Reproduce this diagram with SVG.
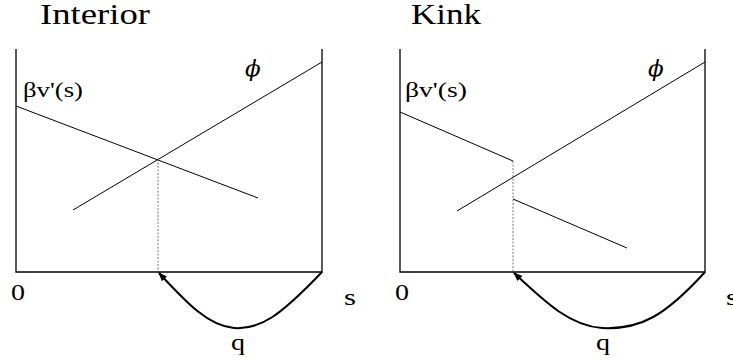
<svg xmlns="http://www.w3.org/2000/svg" width="733" height="360" viewBox="0 0 733 360">
<defs>
<style>
.ax{stroke:#000;stroke-width:1.3;fill:none}
.ln{stroke:#000;stroke-width:1;fill:none}
.dot{stroke:#555;stroke-width:0.8;stroke-dasharray:2,1.5;fill:none}
.cv{stroke:#000;stroke-width:2;fill:none}
.t{font-family:"Liberation Serif","Times New Roman",serif;fill:#000}
.phi{font-family:"DejaVu Serif","Liberation Serif",serif;font-style:italic;fill:#000}
</style>
<marker id="ah" markerWidth="9" markerHeight="7" refX="8" refY="3.5" orient="auto" markerUnits="userSpaceOnUse">
<path d="M0,0 L9,3.5 L0,7 Z" fill="#000"/>
</marker>
</defs>
<rect width="733" height="360" fill="#fff"/>
<g id="interior">
<text class="t" x="40" y="24" font-size="29" textLength="110" lengthAdjust="spacingAndGlyphs">Interior</text>
<path class="ax" d="M16,49 V272 H322 V49"/>
<line class="ln" x1="16" y1="106" x2="258" y2="198"/>
<line class="ln" x1="73" y1="210" x2="322" y2="62"/>
<line class="dot" x1="158" y1="159" x2="158" y2="272"/>
<text class="t" x="23" y="97" font-size="21" textLength="60" lengthAdjust="spacingAndGlyphs">βv'(s)</text>
<text class="phi" x="245" y="76" font-size="23">ϕ</text>
<text class="t" x="11" y="300" font-size="24" textLength="14" lengthAdjust="spacingAndGlyphs">0</text>
<text class="t" x="344" y="305" font-size="24" textLength="12" lengthAdjust="spacingAndGlyphs">s</text>
<text class="t" x="231" y="350" font-size="24" textLength="14" lengthAdjust="spacingAndGlyphs">q</text>
</g>
<g id="kink">
<text class="t" x="411" y="24" font-size="29" textLength="70" lengthAdjust="spacingAndGlyphs">Kink</text>
<path class="ax" d="M400,49 V272 H705 V49"/>
<line class="ln" x1="400" y1="112" x2="513" y2="161"/>
<line class="ln" x1="513" y1="199" x2="627" y2="248"/>
<line class="ln" x1="457" y1="211" x2="705" y2="62"/>
<line class="dot" x1="513" y1="161" x2="513" y2="272"/>
<text class="t" x="405" y="97" font-size="21" textLength="62" lengthAdjust="spacingAndGlyphs">βv'(s)</text>
<text class="phi" x="648" y="76" font-size="23">ϕ</text>
<text class="t" x="395" y="300" font-size="24" textLength="14" lengthAdjust="spacingAndGlyphs">0</text>
<text class="t" x="726" y="305" font-size="24" textLength="12" lengthAdjust="spacingAndGlyphs">s</text>
<text class="t" x="596" y="350" font-size="24" textLength="14" lengthAdjust="spacingAndGlyphs">q</text>
</g>
<g id="connectors">
<path class="cv" d="M322,272 C280,316 260,330 234,328 C208,326 186,302 159,273" marker-end="url(#ah)"/>
<path class="cv" d="M705,272 C665,316 640,330 602,328 C570,326 545,302 514,273" marker-end="url(#ah)"/>
</g>
</svg>
